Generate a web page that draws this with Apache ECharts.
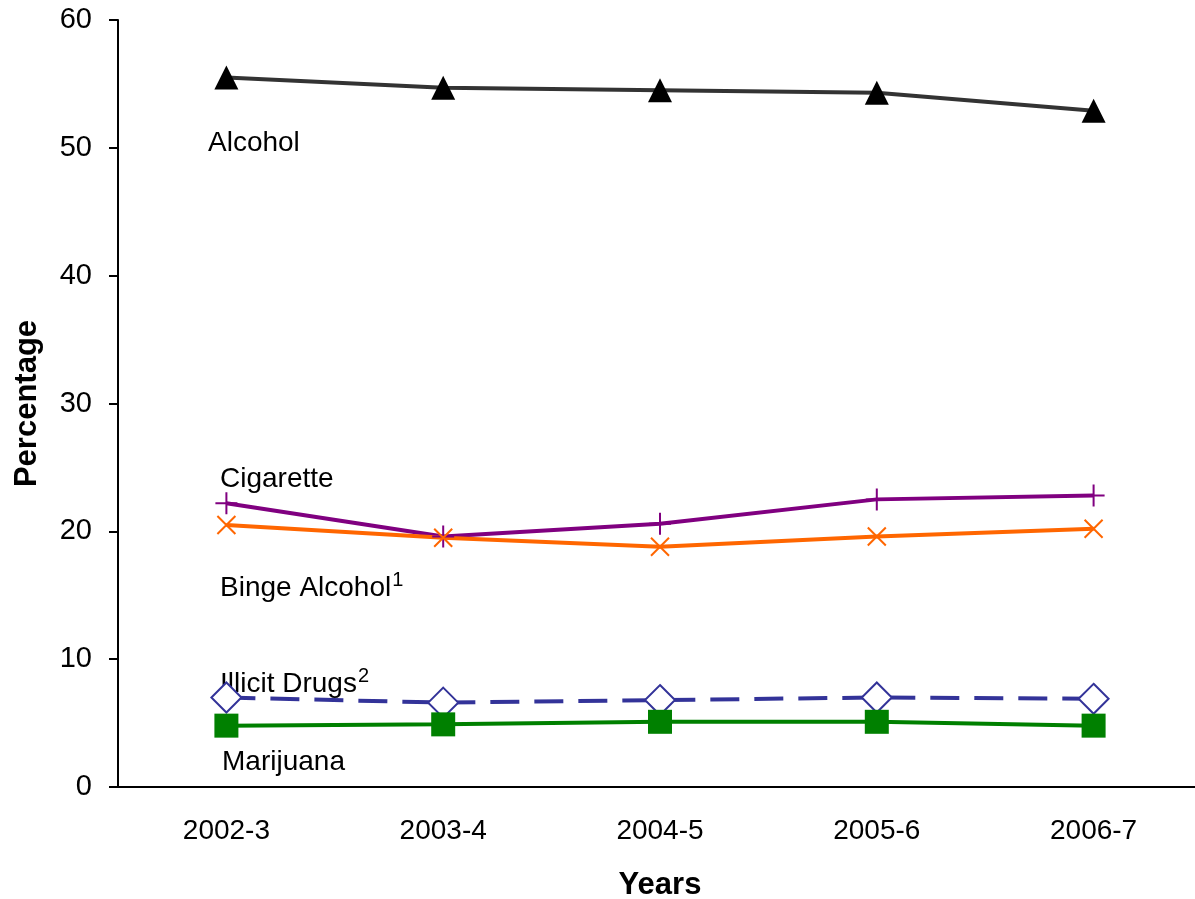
<!DOCTYPE html>
<html>
<head>
<meta charset="utf-8">
<script src="https://cdn.jsdelivr.net/npm/echarts@6/dist/echarts.min.js"></script>
<style>html,body{margin:0;padding:0;background:#fff}#chart{width:1195px;height:899px}</style>
</head>
<body>
<div id="chart"></div>
<script>
// Substance use percentages by survey years
const years = ['2002-3', '2003-4', '2004-5', '2005-6', '2006-7'];
const alcohol = [55.5, 54.7, 54.5, 54.3, 52.9];
const cigarette = [22.2, 19.6, 20.6, 22.5, 22.8];
const bingeAlcohol = [20.5, 19.5, 18.8, 19.6, 20.2];
const illicitDrugs = [7.0, 6.6, 6.8, 7.0, 6.9];
const marijuana = [4.8, 4.9, 5.1, 5.1, 4.8];
const yTicks = [0, 10, 20, 30, 40, 50, 60];

const FONT = '"Liberation Sans", Arial, sans-serif';
const LABEL_FONT = '28px ' + FONT;
const SUP_FONT = '20px ' + FONT;
const plusPath = 'path://M5,0L5,10M0,5L10,5';
const crossPath = 'path://M0,0L10,10M10,0L0,10';

const chart = echarts.init(document.getElementById('chart'));

// width of a text run, used to place footnote superscripts after a name
const measureCtx = document.createElement('canvas').getContext('2d');
function textWidth(text, font) {
  measureCtx.font = font;
  return measureCtx.measureText(text).width;
}

// series name written next to its line, with an optional footnote mark
function seriesName(x, y, text, sup) {
  const items = [{ type: 'text', x: x, y: y,
    style: { text: text, fill: '#000', font: LABEL_FONT, verticalAlign: 'middle' } }];
  if (sup) {
    items.push({ type: 'text', x: x + textWidth(text, LABEL_FONT) + 1, y: y + 2,
      style: { text: sup, fill: '#000', font: SUP_FONT, verticalAlign: 'bottom' } });
  }
  return items;
}

chart.setOption({
  animation: false,
  backgroundColor: '#fff',
  grid: { left: 118, top: 20, bottom: 112, width: 1084, outerBoundsMode: 'none', containLabel: false },
  xAxis: {
    type: 'category', data: years, boundaryGap: true,
    axisLine: { lineStyle: { color: '#000', width: 2 } },
    axisTick: { show: false },
    axisLabel: { color: '#000', fontSize: 28, fontFamily: FONT, margin: 30 },
    name: 'Years', nameLocation: 'middle', nameGap: 83,
    nameTextStyle: { color: '#000', fontSize: 31, fontWeight: 'bold', fontFamily: FONT }
  },
  yAxis: {
    type: 'value', min: yTicks[0], max: yTicks[yTicks.length - 1], interval: 10,
    splitLine: { show: false },
    axisLine: { show: true, lineStyle: { color: '#000', width: 2 } },
    axisTick: { show: true, length: 9, lineStyle: { color: '#000', width: 2 } },
    axisLabel: { color: '#000', fontSize: 29, fontFamily: FONT, margin: 26 },
    name: 'Percentage', nameLocation: 'middle', nameGap: 75,
    nameTextStyle: { color: '#000', fontSize: 31, fontWeight: 'bold', fontFamily: FONT }
  },
  series: [
    { name: 'Alcohol', type: 'line', data: alcohol, symbol: 'triangle', symbolSize: 24,
      lineStyle: { color: '#333333', width: 4 }, itemStyle: { color: '#000' }, z: 5 },
    { name: 'Cigarette', type: 'line', data: cigarette, symbol: plusPath, symbolSize: 22,
      lineStyle: { color: '#800080', width: 4 },
      itemStyle: { color: 'none', borderColor: '#800080', borderWidth: 2 } },
    { name: 'Binge Alcohol', type: 'line', data: bingeAlcohol, symbol: crossPath, symbolSize: 18,
      lineStyle: { color: '#FF6600', width: 4 },
      itemStyle: { color: 'none', borderColor: '#FF6600', borderWidth: 2 } },
    { name: 'Illicit Drugs', type: 'line', data: illicitDrugs, symbol: 'diamond', symbolSize: [30, 30],
      lineStyle: { color: '#333399', width: 4, type: [29, 15] },
      itemStyle: { color: '#fff', borderColor: '#333399', borderWidth: 2 } },
    { name: 'Marijuana', type: 'line', data: marijuana, symbol: 'rect', symbolSize: 24,
      lineStyle: { color: '#008000', width: 4 }, itemStyle: { color: '#008000' }, z: 4 }
  ],
  graphic: [].concat(
    seriesName(208, 143, 'Alcohol'),
    seriesName(220, 479, 'Cigarette'),
    seriesName(220, 588, 'Binge Alcohol', '1'),
    seriesName(220, 684, 'Illicit Drugs', '2'),
    seriesName(222, 762, 'Marijuana')
  )
});
</script>
</body>
</html>
